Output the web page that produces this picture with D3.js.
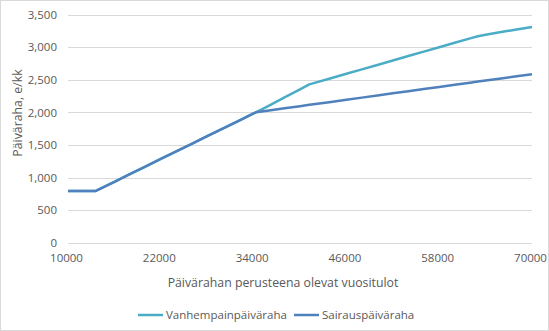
<!DOCTYPE html>
<html><head><meta charset="utf-8">
<script src="https://cdn.jsdelivr.net/npm/d3@7"></script>
<style>
body{margin:0;background:#fff;}
svg text{font-family:"Open Sans","Noto Sans",sans-serif;fill:#595959;}
</style></head>
<body>
<svg id="chart" width="549" height="331"></svg>
<script>
const seriesNames = ["Vanhempainpäiväraha", "Sairauspäiväraha"];
const incomes = [10000,12000,13600,14000,16000,18000,20000,22000,24000,26000,28000,30000,32000,34000,34300,36000,38000,40000,41200,42000,44000,46000,48000,50000,52000,54000,56000,58000,60000,62000,63000,64000,66000,68000,70000];
const vanhempain = [795,795,795,818,935,1052,1168,1285,1402,1518,1635,1752,1868,1985,2002,2105,2230,2355,2430,2457,2525,2593,2661,2729,2797,2865,2933,3001,3069,3137,3170,3191,3233,3274,3310];
const sairaus = [795,795,795,818,935,1052,1168,1285,1402,1518,1635,1752,1868,1985,2002,2030,2063,2096,2116,2128,2161,2194,2227,2260,2293,2325,2358,2391,2424,2457,2473,2490,2522,2555,2585];
const xTicks = [10000,22000,34000,46000,58000,70000];
const yTicks = [0,500,1000,1500,2000,2500,3000,3500];
const xTitle = "Päivärahan perusteena olevat vuositulot";
const yTitle = "Päiväraha, e/kk";
const colors = ["#4bacc6", "#4f81bd"];

const svg = d3.select("#chart");
svg.append("rect").attr("x",0.5).attr("y",0.5).attr("width",548).attr("height",330)
  .attr("fill","#fff").attr("stroke","#d9d9d9");

const x = d3.scaleLinear().domain([10000,70000]).range([68,532]);
const y = d3.scaleLinear().domain([0,3500]).range([242.7,14.7]);

svg.append("g").selectAll("line").data(yTicks).join("line")
  .attr("x1",x(10000)).attr("x2",x(70000))
  .attr("y1",d=>Math.round(y(d))+0.5).attr("y2",d=>Math.round(y(d))+0.5)
  .attr("stroke","#d9d9d9").attr("stroke-width",1);

const yAxis = d3.axisLeft(y).tickValues(yTicks).tickSize(0).tickPadding(0)
  .tickFormat(d3.format(","));
const ya = svg.append("g").attr("transform","translate(57,0)").call(yAxis);
ya.select(".domain").remove();
ya.selectAll("text").attr("font-size","11.5px").style("fill","#595959");

const xAxis = d3.axisBottom(x).tickValues(xTicks).tickSize(0).tickPadding(0)
  .tickFormat(d3.format("d"));
const xa = svg.append("g").attr("transform","translate(-2,254)").call(xAxis);
xa.select(".domain").remove();
xa.selectAll("text").attr("font-size","11.5px").style("fill","#595959");

const data = [vanhempain, sairaus];
const line = d3.line().x((d,i)=>x(incomes[i])).y(d=>y(d));
data.forEach((s,k)=>{
  svg.append("path").datum(s).attr("d",line).attr("fill","none")
    .attr("stroke",colors[k]).attr("stroke-width",2.5).attr("stroke-linejoin","round");
});

svg.append("text").attr("x",283).attr("y",287).attr("text-anchor","middle")
  .attr("font-size","12.3px").text(xTitle);
svg.append("text").attr("transform","translate(22,113) rotate(-90)")
  .attr("text-anchor","middle").attr("font-size","12.3px").text(yTitle);

const legX = [138, 294];
seriesNames.forEach((n,k)=>{
  svg.append("line").attr("x1",legX[k]).attr("x2",legX[k]+25)
    .attr("y1",315).attr("y2",315).attr("stroke",colors[k]).attr("stroke-width",2.5);
  svg.append("text").attr("x",legX[k]+28).attr("y",319).attr("font-size","11.5px").text(n);
});
</script>
</body></html>
